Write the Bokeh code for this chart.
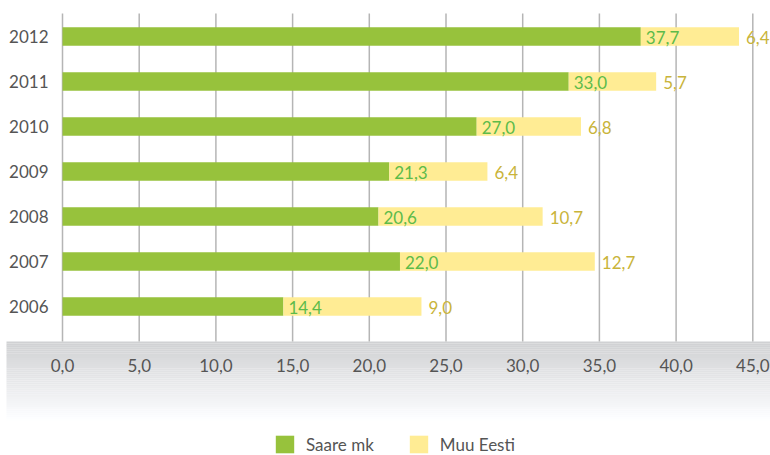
from bokeh.plotting import figure
from bokeh.models import (LinearAxis, FixedTicker, ColumnDataSource, Legend, LegendItem)
from bokeh.core.properties import value
from bokeh.embed import file_html
from bokeh.resources import INLINE

# ---- data ----
years = [2006, 2007, 2008, 2009, 2010, 2011, 2012]
saare_mk = [14.4, 22.0, 20.6, 21.3, 27.0, 33.0, 37.7]
muu_eesti = [9.0, 12.7, 10.7, 6.4, 6.8, 5.7, 6.4]
x_ticks = [0, 5, 10, 15, 20, 25, 30, 35, 40, 45]
x_tick_labels = ["0,0", "5,0", "10,0", "15,0", "20,0", "25,0", "30,0", "35,0", "40,0", "45,0"]
series_names = ["Saare mk", "Muu Eesti"]

GREEN = "#97C23C"
YELLOW = "#FFEC94"
GREEN_TXT = "#5DBB4A"
YELLOW_TXT = "#C9B43A"
TXT = "#555555"
FONT = "Lato"
FS = "17px"

W, H = 770, 455
PX_X = 15.34      # pixels per unit
PX_Y = 45.0       # pixels per year
x0 = -62 / PX_X
x1 = x0 + W / PX_X
y_top = 2012 + 36 / PX_Y
y_bot = y_top - H / PX_Y
grid_top = 2012 + 23 / PX_Y
band_top = 2006 - 35 / PX_Y
band_bot = 2006 - 117 / PX_Y
band_left = (6 - 62) / PX_X

p = figure(width=W, height=H, x_range=(x0, x1), y_range=(y_bot, y_top),
           output_backend="svg", toolbar_location=None,
           x_axis_location=None, y_axis_location=None, min_border=0)
p.outline_line_color = None
p.xgrid.visible = False
p.ygrid.visible = False
p.background_fill_color = "white"
p.border_fill_color = "white"

# gradient band (decoration)
n = 40
step = (band_top - band_bot) / n
tops, bots, cols = [], [], []
for i in range(n):
    t = i / (n - 1)
    g = int(round(208 + (255 - 208) * t))
    tops.append(band_top - i * step)
    bots.append(band_top - (i + 1) * step - 0.001)
    cols.append("#%02x%02x%02x" % (g, min(255, g + 1), min(255, g + 3)))
p.quad(left=band_left, right=x1 + 1, top=tops, bottom=bots, fill_color=cols,
       line_color=None)

# grid lines
p.segment(x0=x_ticks, x1=x_ticks, y0=[band_top] * len(x_ticks),
          y1=[grid_top] * len(x_ticks), line_color="#B5B5B5", line_width=1.5)

tot = [a + b for a, b in zip(saare_mk, muu_eesti)]
src = ColumnDataSource(dict(
    y=years, s=saare_mk, m=muu_eesti, tot=tot,
    s_lbl=[("%.1f" % v).replace(".", ",") for v in saare_mk],
    m_lbl=[("%.1f" % v).replace(".", ",") for v in muu_eesti],
))

bh = 0.41
r1 = p.hbar(y="y", left=0, right="s", height=bh, fill_color=GREEN,
            line_color=None, source=src)
r2 = p.hbar(y="y", left="s", right="tot", height=bh, fill_color=YELLOW,
            line_color=None, source=src)

p.text(x="s", y="y", text="s_lbl", x_offset=5, y_offset=1, text_align="left",
       text_baseline="middle", text_color=GREEN_TXT, text_font=value(FONT),
       text_font_size=FS, source=src)
p.text(x="tot", y="y", text="m_lbl", x_offset=7, y_offset=1, text_align="left",
       text_baseline="middle", text_color=YELLOW_TXT, text_font=value(FONT),
       text_font_size=FS, source=src)

# axes
xa = LinearAxis(ticker=FixedTicker(ticks=x_ticks), fixed_location=band_top)
xa.major_label_overrides = {t: l for t, l in zip(x_ticks, x_tick_labels)}
xa.axis_line_color = None
xa.major_tick_line_color = None
xa.minor_tick_line_color = None
xa.major_label_standoff = 11
xa.major_label_text_font = FONT
xa.major_label_text_font_size = FS
xa.major_label_text_color = TXT
p.add_layout(xa, "below")

ya = LinearAxis(ticker=FixedTicker(ticks=years), fixed_location=0)
ya.major_label_overrides = {y: str(y) for y in years}
ya.axis_line_color = None
ya.major_tick_line_color = None
ya.minor_tick_line_color = None
ya.major_label_standoff = 8
ya.major_label_text_font = FONT
ya.major_label_text_font_size = FS
ya.major_label_text_color = TXT
p.add_layout(ya, "left")

legend = Legend(items=[LegendItem(label=series_names[0], renderers=[r1]),
                       LegendItem(label=series_names[1], renderers=[r2])],
                location=(273, 0), orientation="horizontal",
                glyph_width=23, glyph_height=22, label_height=22,
                label_standoff=10, spacing=33, padding=0, margin=0,
                border_line_color=None, background_fill_alpha=0,
                label_text_font=FONT, label_text_font_size=FS,
                label_text_color=TXT)
p.add_layout(legend, "center")

open("out.html", "w").write(file_html(p, INLINE))
